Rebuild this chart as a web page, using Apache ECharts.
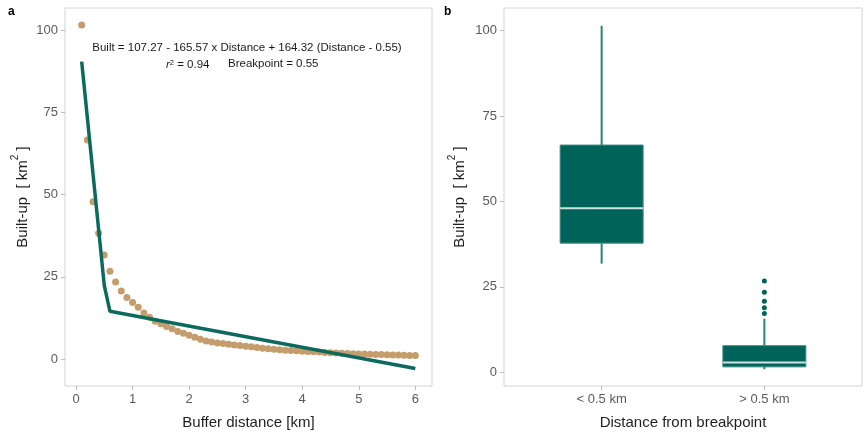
<!DOCTYPE html>
<html>
<head>
<meta charset="utf-8">
<script src="https://cdn.jsdelivr.net/npm/echarts@6/dist/echarts.min.js"></script>
<style>
  html, body { margin: 0; padding: 0; background: #ffffff; }
  #chart { width: 865px; height: 435px; }
</style>
</head>
<body>
<div id="chart"></div>
<script>
// panel a: built-up area by buffer distance
const distanceKm = [
  0.1, 0.2, 0.3, 0.4, 0.5, 0.6, 0.7, 0.8, 0.9, 1.0,
  1.1, 1.2, 1.3, 1.4, 1.5, 1.6, 1.7, 1.8, 1.9, 2.0,
  2.1, 2.2, 2.3, 2.4, 2.5, 2.6, 2.7, 2.8, 2.9, 3.0,
  3.1, 3.2, 3.3, 3.4, 3.5, 3.6, 3.7, 3.8, 3.9, 4.0,
  4.1, 4.2, 4.3, 4.4, 4.5, 4.6, 4.7, 4.8, 4.9, 5.0,
  5.1, 5.2, 5.3, 5.4, 5.5, 5.6, 5.7, 5.8, 5.9, 6.0,
];
const builtUp = [
  101.5, 66.6, 47.8, 38.2, 31.6, 26.7, 23.4, 20.7, 18.7, 17.2,
  15.7, 14.0, 12.7, 11.5, 10.7, 9.9, 9.2, 8.4, 7.8, 7.2,
  6.6, 6.0, 5.5, 5.2, 4.9, 4.7, 4.5, 4.3, 4.1, 3.9,
  3.7, 3.5, 3.3, 3.1, 3.0, 2.8, 2.7, 2.6, 2.5, 2.4,
  2.3, 2.2, 2.1, 2.0, 1.9, 1.8, 1.75, 1.7, 1.6, 1.55,
  1.5, 1.45, 1.4, 1.35, 1.3, 1.25, 1.2, 1.15, 1.1, 1.05,
];
// segmented regression fit
const fitDistance = [0.1, 0.5, 0.6, 6.0];
const fitBuilt = [90.4, 22.3, 14.5, -2.9];

const xTicksA = [0, 1, 2, 3, 4, 5, 6];
const yTicks = [0, 25, 50, 75, 100];

// panel b: box plots by distance from breakpoint
const boxCategories = ['< 0.5 km', '> 0.5 km'];
// [min, q1, median, q3, max]
const boxNear = [31.8, 37.8, 48.0, 66.5, 101.4];
const boxFar = [0.9, 1.6, 2.9, 7.8, 15.7];
const outliersFar = [26.7, 23.4, 20.8, 18.9, 17.2];

const teal = '#00635a';
const tan = '#c59d6c';
const frame = '#d4d4d4';
const tickText = '#5a5a5a';

const chart = echarts.init(document.getElementById('chart'));

const yName = '{a|Built-up  [ km}{s|2}{a| ]}';
const yNameStyle = {
  color: '#1f1f1f',
  fontSize: 15,
  fontFamily: 'Liberation Sans',
  rich: {
    a: { fontSize: 15, fontFamily: 'Liberation Sans', color: '#1f1f1f', lineHeight: 20, verticalAlign: 'bottom' },
    s: { fontSize: 10, fontFamily: 'Liberation Sans', color: '#1f1f1f', lineHeight: 20, verticalAlign: 'top' },
  },
};

function valueAxis(opts) {
  return Object.assign({
    type: 'value',
    axisLine: { show: false, onZero: false },
    splitLine: { show: false },
    nameLocation: 'middle',
  }, opts);
}

function ticks(values) {
  return { show: true, length: 4, lineStyle: { color: '#bdbdbd' }, customValues: values };
}

function labels(values, extra) {
  return Object.assign({
    color: tickText, fontSize: 13, fontFamily: 'Liberation Sans', margin: 7, customValues: values,
  }, extra);
}

const boxData = [boxNear, boxFar].map((s, i) => [i + 1].concat(s));

chart.setOption({
  animation: false,
  backgroundColor: '#ffffff',
  grid: [
    { left: 65, top: 8, width: 367, height: 385, show: true, borderColor: frame, borderWidth: 1 },
    { left: 504, top: 8, width: 358, height: 385, show: true, borderColor: frame, borderWidth: 1 },
  ],
  xAxis: [
    valueAxis({
      gridIndex: 0, min: -0.195, max: 6.295,
      axisTick: ticks(xTicksA),
      axisLabel: labels(xTicksA),
      name: 'Buffer distance [km]', nameGap: 29,
      nameTextStyle: { color: '#1f1f1f', fontSize: 15, fontFamily: 'Liberation Sans' },
    }),
    valueAxis({
      gridIndex: 1, min: 0.4, max: 2.6,
      axisTick: ticks([1, 2]),
      axisLabel: labels([1, 2], { formatter: (v) => boxCategories[Math.round(v) - 1] || '' }),
      name: 'Distance from breakpoint', nameGap: 29,
      nameTextStyle: { color: '#1f1f1f', fontSize: 15, fontFamily: 'Liberation Sans' },
    }),
  ],
  yAxis: [
    valueAxis({
      gridIndex: 0, min: -8.2, max: 106.7,
      axisTick: ticks(yTicks),
      axisLabel: labels(yTicks),
      name: yName, nameGap: 35, nameTextStyle: yNameStyle,
    }),
    valueAxis({
      gridIndex: 1, min: -4, max: 106.6,
      axisTick: ticks(yTicks),
      axisLabel: labels(yTicks),
      name: yName, nameGap: 37, nameTextStyle: yNameStyle,
    }),
  ],
  series: [
    {
      type: 'scatter',
      xAxisIndex: 0, yAxisIndex: 0,
      data: distanceKm.map((d, i) => [d, builtUp[i]]),
      symbolSize: 7,
      itemStyle: { color: tan, opacity: 1 },
      z: 2,
    },
    {
      type: 'line',
      xAxisIndex: 0, yAxisIndex: 0,
      data: fitDistance.map((d, i) => [d, fitBuilt[i]]),
      showSymbol: false,
      lineStyle: { color: '#0b6a5d', width: 3.5 },
      z: 3,
    },
    {
      type: 'custom',
      xAxisIndex: 1, yAxisIndex: 1,
      data: boxData,
      renderItem: (params, api) => {
        const x = api.value(0);
        const halfW = api.size([0.255, 0])[0];
        const c = api.coord([x, api.value(3)]);
        const pMin = api.coord([x, api.value(1)]);
        const pQ1 = api.coord([x, api.value(2)]);
        const pQ3 = api.coord([x, api.value(4)]);
        const pMax = api.coord([x, api.value(5)]);
        const whisker = { stroke: '#2a8479', lineWidth: 2 };
        return {
          type: 'group',
          children: [
            { type: 'line', shape: { x1: pMax[0], y1: pMax[1], x2: pQ3[0], y2: pQ3[1] }, style: whisker },
            { type: 'line', shape: { x1: pMin[0], y1: pMin[1], x2: pQ1[0], y2: pQ1[1] }, style: whisker },
            {
              type: 'rect',
              shape: { x: c[0] - halfW, y: pQ3[1], width: halfW * 2, height: pQ1[1] - pQ3[1] },
              style: { fill: teal, stroke: '#3d8c82', lineWidth: 1 },
            },
            {
              type: 'line',
              shape: { x1: c[0] - halfW, y1: c[1], x2: c[0] + halfW, y2: c[1] },
              style: { stroke: '#cfe4e0', lineWidth: 2 },
            },
          ],
        };
      },
      z: 2,
    },
    {
      type: 'scatter',
      xAxisIndex: 1, yAxisIndex: 1,
      data: outliersFar.map((v) => [2, v]),
      symbolSize: 5,
      itemStyle: { color: teal, opacity: 1 },
      z: 3,
    },
  ],
  graphic: [
    { type: 'text', left: 8, top: 6, style: { text: 'a', font: 'bold 12px Liberation Sans', fill: '#000' } },
    { type: 'text', left: 444, top: 6, style: { text: 'b', font: 'bold 12px Liberation Sans', fill: '#000' } },
    {
      type: 'text', x: 247, y: 48,
      style: {
        text: 'Built = 107.27 - 165.57 x Distance + 164.32 (Distance - 0.55)',
        font: '11.5px Liberation Sans', fill: '#1a1a1a', align: 'center', verticalAlign: 'middle',
      },
    },
    {
      type: 'text', x: 166, y: 65,
      style: {
        text: '{i|r}{s|2}{n| = 0.94}',
        align: 'left', verticalAlign: 'middle',
        rich: {
          i: { font: 'italic 11.5px Liberation Sans', fill: '#1a1a1a', verticalAlign: 'bottom' },
          s: { font: '7.5px Liberation Sans', fill: '#1a1a1a', verticalAlign: 'top' },
          n: { font: '11.5px Liberation Sans', fill: '#1a1a1a', verticalAlign: 'bottom' },
        },
      },
    },
    {
      type: 'text', x: 228, y: 64,
      style: {
        text: 'Breakpoint = 0.55',
        font: '11.5px Liberation Sans', fill: '#1a1a1a', align: 'left', verticalAlign: 'middle',
      },
    },
  ],
});
</script>
</body>
</html>
